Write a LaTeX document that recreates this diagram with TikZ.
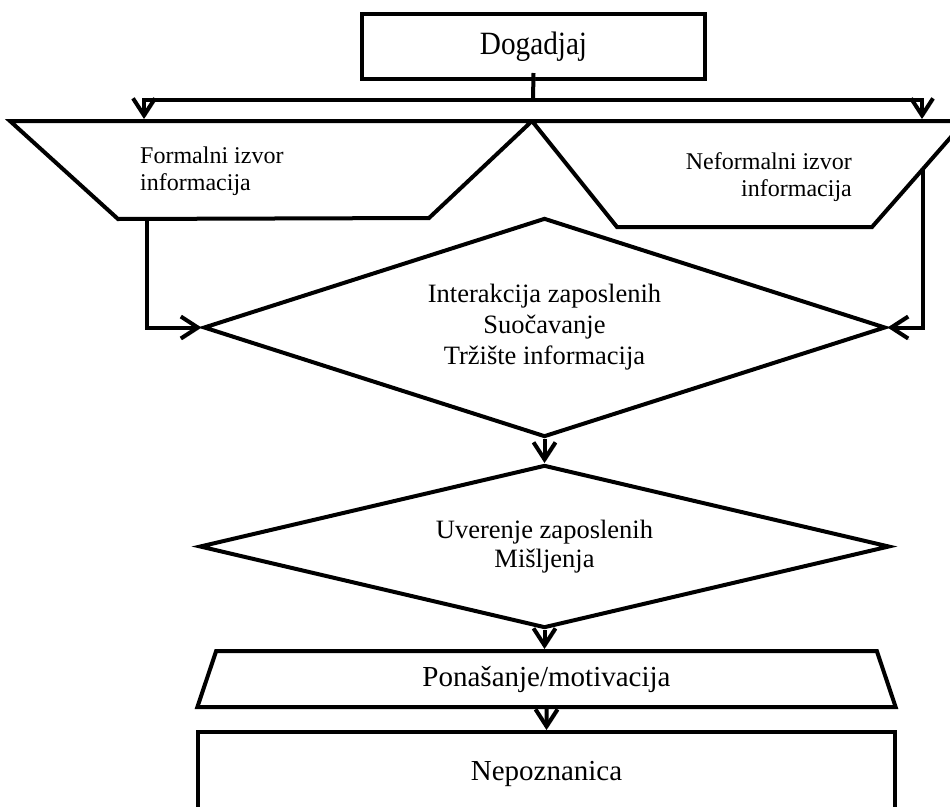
\documentclass[tikz,border=0pt]{standalone}
\usepackage{fontspec}
\setmainfont{Liberation Serif}
\newfontfamily\tallserif[FakeStretch=0.9]{Liberation Serif}
\usetikzlibrary{shapes.geometric,arrows.meta,calc}

\begin{document}
\begin{tikzpicture}[x=1pt,y=-1pt,
  outline/.style={draw=black,line width=4pt},
  link/.style={line width=4pt,
    preaction={draw=black!30,transform canvas={shift={(1.5pt,-1.5pt)}}}},
  connector/.style={link,-{Straight Barb[length=17pt,width=22pt]}},
  headtext/.style={font=\tallserif\fontsize{32.5}{36}\selectfont},
  bigtext/.style={font=\fontsize{29}{33}\selectfont},
  midtext/.style={font=\fontsize{26.5}{31}\selectfont},
  labeltext/.style={font=\fontsize{24}{27.5}\selectfont},
]
\useasboundingbox (0,0) rectangle (950,806);
\clip (0,0) rectangle (950,806);

% event box
\node[outline,rectangle,minimum width=343pt,minimum height=65pt,inner sep=0,headtext]
  (dog) at (533.5,46.5) {Dogadjaj};

% information sources (two inverted trapezoids sharing the top apex)
\draw[outline] (10,121) coordinate (ftl) -- (532,121) coordinate (apex)
  -- (429,218) coordinate (fbr) -- (118,219) coordinate (fbl) -- cycle;
\draw[outline] (apex) -- (965,121) coordinate (ntr)
  -- (872,227) coordinate (nbr) -- (617,227) coordinate (nbl) -- cycle;
\node[labeltext,align=left,anchor=west,inner sep=0] (ftext) at (140,171)
  {Formalni izvor\\informacija};
\node[labeltext,align=right,anchor=east,inner sep=0] (ntext) at (852,177)
  {Neformalni izvor\\informacija};

% interaction and belief stages
\node[outline,diamond,shape aspect=3.1,minimum width=682pt,minimum height=219pt,
  inner sep=0,midtext,align=center] (d1) at (544.5,327.5)
  {Interakcija zaposlenih\\Suočavanje\\Tržište informacija};
\node[outline,diamond,shape aspect=4.2,minimum width=690pt,minimum height=163pt,
  inner sep=0,font=\fontsize{26.5}{29}\selectfont,align=center] (d2) at (544.5,546.5)
  {Uverenje zaposlenih\\Mišljenja};

% behaviour and outcome
\node[outline,trapezium,trapezium left angle=75,trapezium right angle=75,
  trapezium stretches=true,minimum width=701pt,minimum height=56pt,inner sep=0,bigtext]
  (pon) at (546.5,679) {Ponašanje/motivacija};
\node[outline,rectangle,minimum width=697pt,minimum height=84pt,inner sep=0,bigtext]
  (nep) at (546.5,774) {Nepoznanica};

% connector end points
\coordinate (split) at (533,100);
\coordinate (ftop) at (144,119);
\coordinate (ntop) at (922,119);
\coordinate (fout) at (147,219);
\coordinate (nout) at (923,169);

% connectors
\draw[link] ([yshift=8pt]dog.south) -- (split);
\draw[connector] (split) -| (ftop);
\draw[connector] (split) -| (ntop);
\draw[connector] (fout) |- (d1.west);
\draw[connector] (nout) |- (d1.east);
\draw[connector] (d1.south) -- (d2.north);
\draw[connector] (d2.south) -- (d2.south |- pon.north);
\draw[connector] (pon.south) -- (nep.north);
\end{tikzpicture}
\end{document}
